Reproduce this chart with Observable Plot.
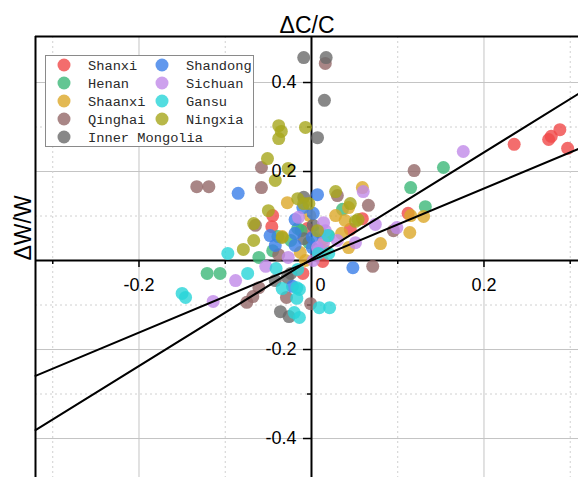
<!DOCTYPE html>
<html><head><meta charset="utf-8">
<script src="https://cdn.jsdelivr.net/npm/d3@7"></script>
<script src="https://cdn.jsdelivr.net/npm/@observablehq/plot@0.6"></script>
<style>body{margin:0;background:#fff} svg{display:block}</style>
</head><body><div id="chart"></div>
<script>
// categories and colours
const provinces = ["Shanxi","Henan","Shaanxi","Qinghai","Inner Mongolia","Shandong","Sichuan","Gansu","Ningxia"];
const colors = ["#f04848","#3cb878","#dca828","#946868","#6a6a6a","#3a7ee8","#c08ae8","#28d4d8","#a6a61c"];

// series values: [ΔC/C, ΔW/W]
const shanxi = [[0.235,0.261],[0.275,0.272],[0.278,0.279],[0.288,0.294],[0.297,0.252],[0.112,0.106],[0.059,0.094],[0.045,0.070],[-0.045,0.101],[-0.046,0.076],[-0.005,0.072],[0.013,-0.002],[-0.010,-0.029]];
const henan = [[0.153,0.209],[0.115,0.164],[0.132,0.121],[0.036,0.115],[-0.016,0.072],[-0.012,0.067],[0.020,0.056],[-0.024,0.045],[-0.039,0.054],[-0.045,0.022],[-0.061,0.007],[-0.121,-0.029],[-0.106,-0.029],[-0.003,0.040]];
const shaanxi = [[0.115,0.101],[0.130,0.099],[0.114,0.063],[0.080,0.038],[0.059,0.164],[0.028,0.101],[0.039,0.090],[0.043,0.119],[0.035,0.061],[0.043,0.029],[0.014,0.049],[0.016,0.022],[-0.013,0.018],[-0.007,0.000],[-0.028,0.130],[-0.002,0.101],[-0.034,0.054]];
const qinghai = [[0.119,0.202],[0.095,0.067],[0.030,0.146],[0.066,0.124],[0.071,-0.013],[0.016,0.443],[-0.058,0.209],[-0.058,0.164],[-0.133,0.166],[-0.119,0.166],[-0.065,0.079],[-0.038,0.013],[-0.061,-0.061],[-0.068,-0.081],[-0.075,-0.094],[-0.029,-0.083],[-0.001,-0.097]];
const innerMongolia = [[-0.009,0.456],[0.017,0.456],[0.015,0.360],[0.007,0.276],[-0.009,0.142],[0.002,0.079],[-0.009,0.049],[-0.042,-0.045],[-0.028,-0.038],[-0.024,-0.029],[-0.036,-0.115],[-0.026,-0.126]];
const shandong = [[-0.085,0.151],[0.007,0.148],[-0.010,0.119],[0.002,0.106],[-0.019,0.092],[-0.048,0.056],[-0.019,0.061],[-0.042,0.034],[-0.019,0.034],[0.001,0.029],[0.001,0.052],[0.010,0.063],[0.048,-0.016],[-0.022,-0.058]];
const sichuan = [[0.176,0.245],[0.099,0.074],[0.060,0.155],[0.074,0.081],[0.051,0.040],[0.030,0.045],[0.014,0.085],[0.016,0.067],[-0.015,0.097],[0.007,0.029],[-0.027,0.007],[-0.053,-0.013],[-0.088,-0.045],[-0.114,-0.092],[0.008,0.022],[0.002,0.000],[0.014,0.040]];
const gansu = [[-0.097,0.016],[-0.074,-0.029],[-0.150,-0.074],[-0.146,-0.083],[-0.041,-0.018],[-0.034,-0.063],[-0.017,-0.061],[-0.014,-0.065],[-0.017,-0.085],[-0.020,-0.117],[-0.014,-0.128],[0.009,-0.106],[0.021,-0.106],[-0.016,-0.020],[0.008,0.016],[0.020,0.016],[0.019,0.056]];
const ningxia = [[-0.038,0.303],[-0.035,0.290],[-0.038,0.274],[-0.007,0.299],[-0.051,0.229],[-0.027,0.207],[-0.042,0.180],[0.028,0.155],[-0.016,0.139],[-0.009,0.128],[-0.003,0.128],[-0.050,0.112],[-0.067,0.083],[-0.067,0.045],[-0.079,0.025],[-0.034,0.052],[0.045,0.128],[0.054,0.092],[0.051,0.088],[0.007,0.067]];
const seriesList = [shanxi, henan, shaanxi, qinghai, innerMongolia, shandong, sichuan, gansu, ningxia];

// fitted lines: slope and intercept
const lineSlopes = [1.2, 0.81];
const lineIntercepts = [0.003, 0.0];

// axes
const xDomain = [-0.32, 0.3096];
const yDomain = [-0.4876, 0.5034];
const xMajor = [-0.2, 0.2];
const xMinor = [-0.3, -0.1, 0.1, 0.3];
const yMajor = [0.4, 0.2, -0.2, -0.4];
const yMinor = [0.3, 0.1, -0.1, -0.3];
const xTickLabels = [{v:-0.2, t:"-0.2"}, {v:0.2, t:"0.2"}];
const xZeroLabel = [{v:0, t:"0"}];
const yTickLabels = [{v:0.4, t:"0.4"}, {v:0.2, t:"0.2"}, {v:-0.2, t:"-0.2"}, {v:-0.4, t:"-0.4"}];

const points = seriesList.flatMap((s, i) => s.map(([x, y]) => ({x, y, province: provinces[i]})));
const lines = lineSlopes.flatMap((m, i) => xDomain.map(x => ({x, y: m * x + lineIntercepts[i], k: i})));

const font = "Liberation Sans, Arial, sans-serif";
const plot = Plot.plot({
  width: 578, height: 477,
  marginLeft: 35, marginTop: 36, marginRight: 0, marginBottom: 0,
  style: {fontFamily: font, background: "#fff", overflow: "hidden"},
  x: {domain: xDomain, axis: null},
  y: {domain: yDomain, axis: null},
  color: {domain: provinces, range: colors},
  marks: [
    Plot.ruleX(xMajor, {stroke: "#c4c4c4", strokeWidth: 1}),
    Plot.ruleY(yMajor, {stroke: "#c4c4c4", strokeWidth: 1}),
    Plot.ruleX(xMinor, {stroke: "#d0d0d0", strokeWidth: 1, strokeDasharray: "2,3"}),
    Plot.ruleY(yMinor, {stroke: "#d0d0d0", strokeWidth: 1, strokeDasharray: "2,3"}),
    Plot.ruleX([0], {stroke: "black", strokeWidth: 2}),
    Plot.ruleY([0], {stroke: "black", strokeWidth: 2}),
    Plot.ruleX(xMajor, {y1: 0, y2: 0, insetBottom: -7, stroke: "black", strokeWidth: 1.5}),
    Plot.ruleX(xMinor, {y1: 0, y2: 0, insetBottom: -4, stroke: "black", strokeWidth: 1.5}),
    Plot.ruleY(yMajor, {x1: 0, x2: 0, insetLeft: -8, stroke: "black", strokeWidth: 1.5}),
    Plot.ruleY(yMinor, {x1: 0, x2: 0, insetLeft: -4, stroke: "black", strokeWidth: 1.5}),
    Plot.dot(points, {x: "x", y: "y", fill: "province", r: 6.5, fillOpacity: 0.8, stroke: null}),
    Plot.line(lines, {x: "x", y: "y", z: "k", stroke: "black", strokeWidth: 2}),
    Plot.text(xTickLabels, {x: "v", y: 0, text: "t", dy: 25, fontSize: 18, fill: "black"}),
    Plot.text(xZeroLabel, {x: "v", y: 0, text: "t", dy: 25, dx: 9, fontSize: 18, fill: "black"}),
    Plot.text(yTickLabels, {x: 0, y: "v", text: "t", textAnchor: "end", dx: -15, fontSize: 18, fill: "black"}),
    Plot.ruleX([xDomain[0]], {stroke: "black", strokeWidth: 2}),
    Plot.ruleY([yDomain[1]], {stroke: "black", strokeWidth: 2}),
    Plot.text(["ΔC/C"], {frameAnchor: "top", lineAnchor: "bottom", dy: -4, fontSize: 23, fill: "black"}),
    Plot.text(["ΔW/W"], {frameAnchor: "left", rotate: -90, dx: -11.5, dy: 3.5, fontSize: 23, fill: "black"})
  ]
});

// legend inside the plot area
const svg = d3.select(plot);
const lg = svg.append("g").attr("text-anchor", "start");
lg.append("rect").attr("x", 45.5).attr("y", 55.5).attr("width", 208).attr("height", 91)
  .attr("fill", "white").attr("stroke", "#8a8a8a").attr("stroke-width", 1);
const colOf = i => (i < 5 ? 0 : 1);
const rowOf = i => (i < 5 ? i : i - 5);
provinces.forEach((p, i) => {
  const cx = 64 + colOf(i) * 98;
  const cy = 65 + rowOf(i) * 18;
  lg.append("circle").attr("cx", cx).attr("cy", cy).attr("r", 6.5)
    .attr("fill", colors[i]).attr("fill-opacity", 0.8);
  lg.append("text").attr("x", cx + 24).attr("y", cy + 1).attr("dominant-baseline", "central")
    .attr("text-anchor", "start")
    .attr("font-family", "Liberation Mono, Courier New, monospace").attr("font-size", 13.7)
    .attr("fill", "#2a2a2a").text(p);
});

document.getElementById("chart").appendChild(plot);
</script>
</body></html>
